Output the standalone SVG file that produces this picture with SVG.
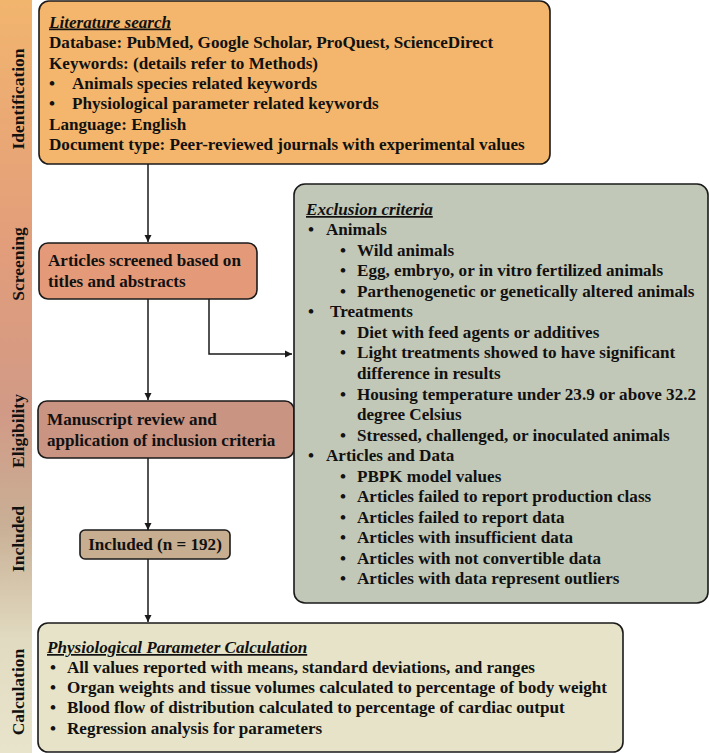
<svg xmlns="http://www.w3.org/2000/svg" width="709" height="753" viewBox="0 0 709 753">
<defs>
<linearGradient id="bar" x1="0" y1="0" x2="0" y2="1">
<stop offset="0" stop-color="#F2B56E"/>
<stop offset="0.33" stop-color="#E29D7B"/>
<stop offset="0.55" stop-color="#D19A86"/>
<stop offset="0.7" stop-color="#C9B096"/>
<stop offset="0.85" stop-color="#E1DBC1"/>
<stop offset="1" stop-color="#E8E4CB"/>
</linearGradient>
<marker id="arr" markerWidth="8" markerHeight="8" refX="7" refY="4" orient="auto" markerUnits="userSpaceOnUse">
<path d="M0,0.5 L7,4 L0,7.5 Z" fill="#1a1a1a"/>
</marker>
</defs>
<style>
text{font-family:"Liberation Serif","Times New Roman",serif;font-weight:bold;font-size:17.1px;fill:#111}
.box{stroke:#1a1a1a;stroke-width:1.6}
.ttl{font-style:italic;text-decoration:underline}
.lbl{font-size:17.5px}
.con{fill:none;stroke:#1a1a1a;stroke-width:1.5}
</style>
<rect x="0" y="0" width="32" height="753" fill="url(#bar)"/>
<g id="stages">
<text class="lbl" transform="translate(24,99) rotate(-90)" text-anchor="middle">Identification</text>
<text class="lbl" transform="translate(24,264) rotate(-90)" text-anchor="middle">Screening</text>
<text class="lbl" transform="translate(24,431) rotate(-90)" text-anchor="middle">Eligibility</text>
<text class="lbl" transform="translate(24,539) rotate(-90)" text-anchor="middle">Included</text>
<text class="lbl" transform="translate(24,692) rotate(-90)" text-anchor="middle">Calculation</text>
</g>
<g id="connectors">
<path class="con" d="M148,164 V242" marker-end="url(#arr)"/>
<path class="con" d="M148,299 V400" marker-end="url(#arr)"/>
<path class="con" d="M209,299 V354 H292" marker-end="url(#arr)"/>
<path class="con" d="M148,458 V530" marker-end="url(#arr)"/>
<path class="con" d="M148,559 V622" marker-end="url(#arr)"/>
</g>
<g id="identification">
<rect class="box" x="39" y="1" width="511" height="163" rx="10" fill="#F4B66C"/>
<text class="ttl" x="49" y="27.5">Literature search</text>
<text x="49" y="48">Database: PubMed, Google Scholar, ProQuest, ScienceDirect</text>
<text x="49" y="68.5">Keywords: (details refer to Methods)</text>
<text x="49" y="89">•</text><text x="72" y="89">Animals species related keywords</text>
<text x="49" y="109">•</text><text x="72" y="109">Physiological parameter related keywords</text>
<text x="49" y="129.5">Language: English</text>
<text x="49" y="150">Document type: Peer-reviewed journals with experimental values</text>
</g>
<g id="screening">
<rect class="box" x="39" y="243" width="218" height="56" rx="9" fill="#E49A78"/>
<text x="48" y="266">Articles screened based on</text>
<text x="48" y="287">titles and abstracts</text>
</g>
<g id="eligibility">
<rect class="box" x="38" y="401" width="256" height="57" rx="9" fill="#C99482"/>
<text x="47" y="425">Manuscript review and</text>
<text x="47" y="446">application of inclusion criteria</text>
</g>
<g id="included">
<rect class="box" x="80" y="530" width="150" height="29" rx="5" fill="#C8AE91"/>
<text x="155" y="550" text-anchor="middle">Included (n = 192)</text>
</g>
<g id="exclusion">
<rect class="box" x="294" y="184" width="414" height="419" rx="11" fill="#C2C8B8"/>
<text class="ttl" x="306" y="215">Exclusion criteria</text>
<text x="308" y="235">•</text><text x="326" y="235">Animals</text>
<text x="340" y="256">•</text><text x="357" y="256">Wild animals</text>
<text x="340" y="276">•</text><text x="357" y="276">Egg, embryo, or in vitro fertilized animals</text>
<text x="340" y="297">•</text><text x="357" y="297">Parthenogenetic or genetically altered animals</text>
<text x="308" y="317">•</text><text x="330" y="317">Treatments</text>
<text x="340" y="338">•</text><text x="357" y="338">Diet with feed agents or additives</text>
<text x="340" y="358">•</text><text x="357" y="358">Light treatments showed to have significant</text>
<text x="357" y="379">difference in results</text>
<text x="340" y="400">•</text><text x="357" y="400">Housing temperature under 23.9 or above 32.2</text>
<text x="357" y="420">degree Celsius</text>
<text x="340" y="441">•</text><text x="357" y="441">Stressed, challenged, or inoculated animals</text>
<text x="308" y="461">•</text><text x="326" y="461">Articles and Data</text>
<text x="340" y="482">•</text><text x="357" y="482">PBPK model values</text>
<text x="340" y="502">•</text><text x="357" y="502">Articles failed to report production class</text>
<text x="340" y="523">•</text><text x="357" y="523">Articles failed to report data</text>
<text x="340" y="543">•</text><text x="357" y="543">Articles with insufficient data</text>
<text x="340" y="564">•</text><text x="357" y="564">Articles with not convertible data</text>
<text x="340" y="584">•</text><text x="357" y="584">Articles with data represent outliers</text>
</g>
<g id="calculation">
<rect class="box" x="38" y="623" width="585" height="129" rx="10" fill="#E6E3C8"/>
<text class="ttl" x="47" y="653">Physiological Parameter Calculation</text>
<text x="50" y="673">•</text><text x="67" y="673">All values reported with means, standard deviations, and ranges</text>
<text x="50" y="693">•</text><text x="67" y="693">Organ weights and tissue volumes calculated to percentage of body weight</text>
<text x="50" y="713">•</text><text x="67" y="713">Blood flow of distribution calculated to percentage of cardiac output</text>
<text x="50" y="734">•</text><text x="67" y="734">Regression analysis for parameters</text>
</g>
</svg>
